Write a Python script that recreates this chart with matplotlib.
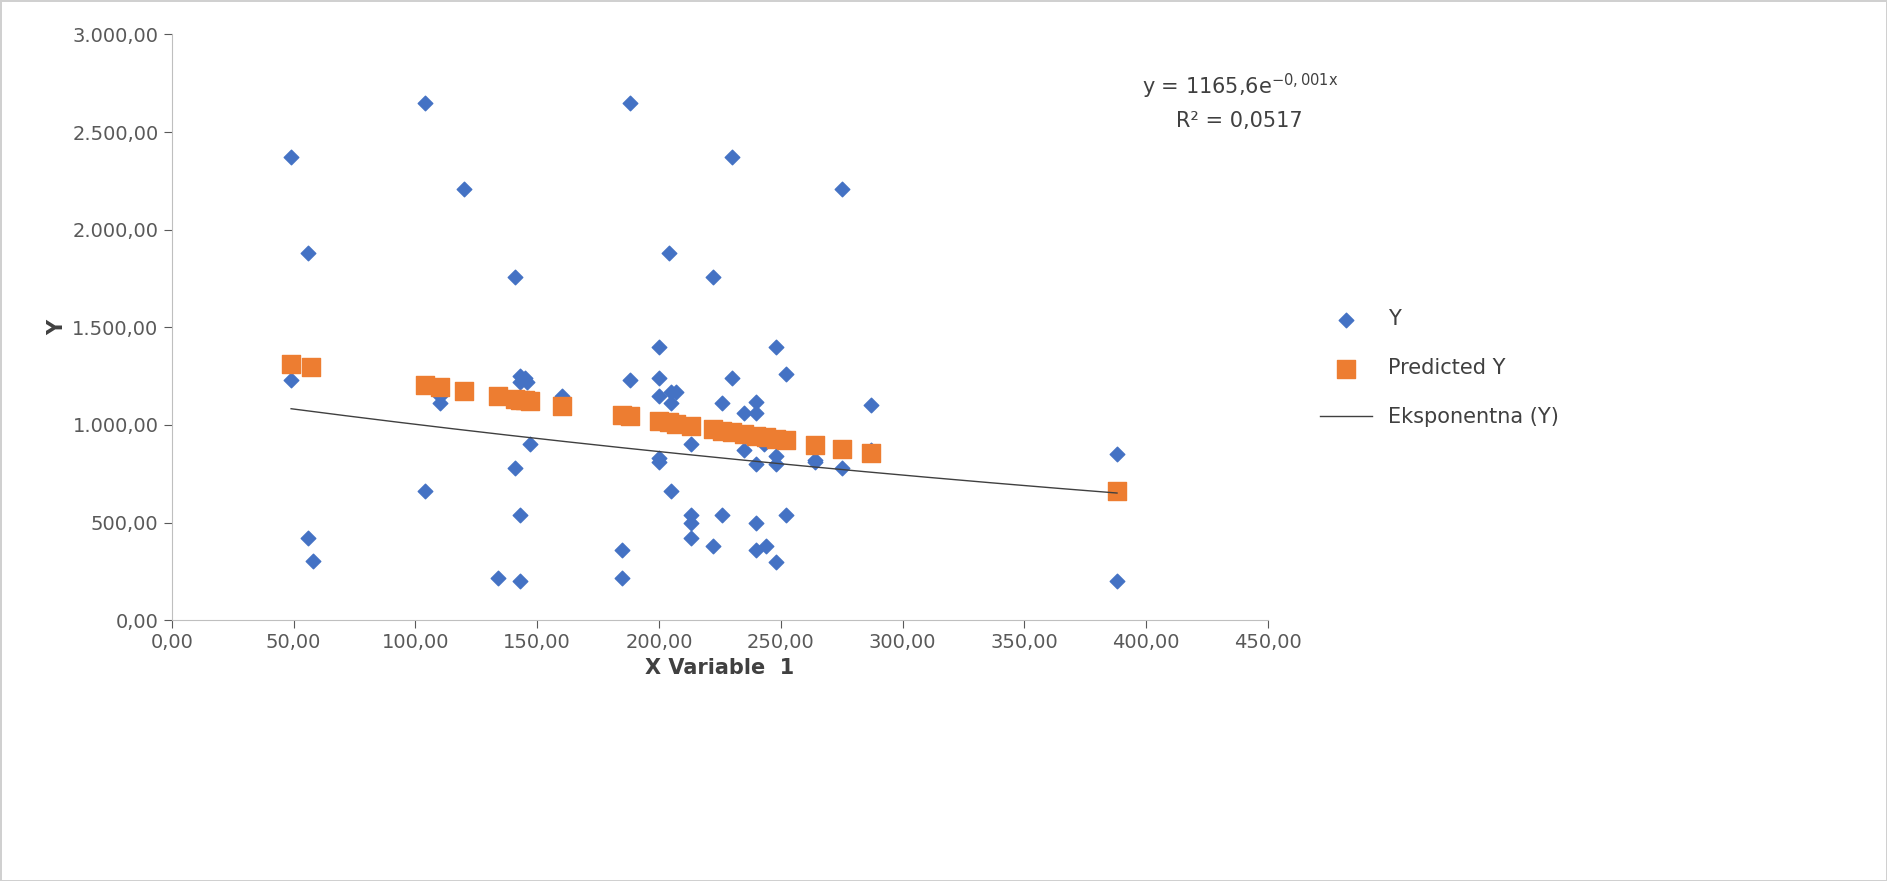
import matplotlib
matplotlib.use("Agg")
import matplotlib.pyplot as plt
import numpy as np
from matplotlib.ticker import FuncFormatter

x_obs = [49, 49, 56, 56, 58, 104, 104, 110, 110, 120, 134, 141, 141, 143, 143, 145, 143, 143,
         146, 147, 160, 185, 185, 188, 188, 200, 200, 200, 200, 200, 204, 205, 205, 207, 205,
         213, 213, 213, 213, 222, 222, 226, 226, 230, 230, 235, 235, 240, 240, 240, 240, 240,
         244, 243, 248, 248, 248, 248, 252, 252, 264, 264, 275, 275, 287, 287, 388, 388]
y_obs = [2370, 1230, 1880, 420, 305, 2650, 660, 1110, 1150, 2210, 215, 1760, 780, 1250, 1220,
         1240, 540, 200, 1220, 900, 1150, 360, 215, 2650, 1230, 1400, 1240, 1150, 830, 810,
         1880, 1110, 660, 1170, 1170, 900, 540, 500, 420, 1760, 380, 1110, 540, 2370, 1240,
         870, 1060, 1120, 1060, 800, 500, 360, 380, 900, 1400, 840, 800, 300, 1260, 540,
         820, 810, 2210, 780, 1100, 870, 850, 200]

x_pred = [49, 57, 104, 110, 120, 134, 141, 143, 145, 147, 160, 185, 188, 200, 204, 207, 213,
          222, 226, 230, 235, 240, 244, 248, 252, 264, 275, 287, 388]
y_pred = [1310, 1295, 1205, 1193, 1174, 1147, 1134, 1130, 1126, 1122, 1097, 1050, 1044, 1021,
          1013, 1007, 996, 979, 971, 963, 954, 944, 937, 929, 921, 898, 877, 854, 660]

# Exponential trendline y = 1165.6 e^(-0.0015 x)
trend_a, trend_b = 1165.6, -0.0015
xt = np.linspace(min(x_obs), max(x_obs), 200)

fig = plt.figure(figsize=(18.87, 8.81), dpi=100)
fig.patch.set_edgecolor("#d0d0d0"); fig.patch.set_linewidth(2)
ax = fig.add_axes([0.091, 0.296, 0.581, 0.665])

ax.scatter(x_obs, y_obs, marker="D", s=55, color="#4472c4", label="Y", zorder=3)
ax.scatter(x_pred, y_pred, marker="s", s=150, color="#ed7d31", label="Predicted Y", zorder=4)
ax.plot(xt, trend_a * np.exp(trend_b * xt), color="#404040", lw=1, label="Eksponentna (Y)", zorder=5)

ax.set_xlim(0, 450); ax.set_ylim(0, 3000)
ax.set_xticks(np.arange(0, 451, 50)); ax.set_yticks(np.arange(0, 3001, 500))
fmt = lambda v, p: f"{v:,.2f}".replace(",", "X").replace(".", ",").replace("X", ".")
ax.xaxis.set_major_formatter(FuncFormatter(fmt))
ax.yaxis.set_major_formatter(FuncFormatter(fmt))
ax.tick_params(labelsize=14, colors="#595959", length=6)
for s in ["top", "right"]:
    ax.spines[s].set_visible(False)
for s in ["left", "bottom"]:
    ax.spines[s].set_color("#bfbfbf")
ax.set_xlabel("X Variable  1", fontsize=15, fontweight="bold", color="#404040")
ax.set_ylabel("Y", fontsize=15, fontweight="bold", color="#404040")

fig.text(0.657, 0.885, "y = 1165,6e$^{\\mathregular{-0,001x}}$\nR² = 0,0517", ha="center", va="center",
         fontsize=15, color="#404040", linespacing=1.6)
ax.legend(loc="center left", bbox_to_anchor=(1.03, 0.43), frameon=False, fontsize=15,
          labelspacing=1.4, handlelength=2.5, labelcolor="#404040")

fig.savefig("out.png", dpi=100, edgecolor=fig.get_edgecolor())
